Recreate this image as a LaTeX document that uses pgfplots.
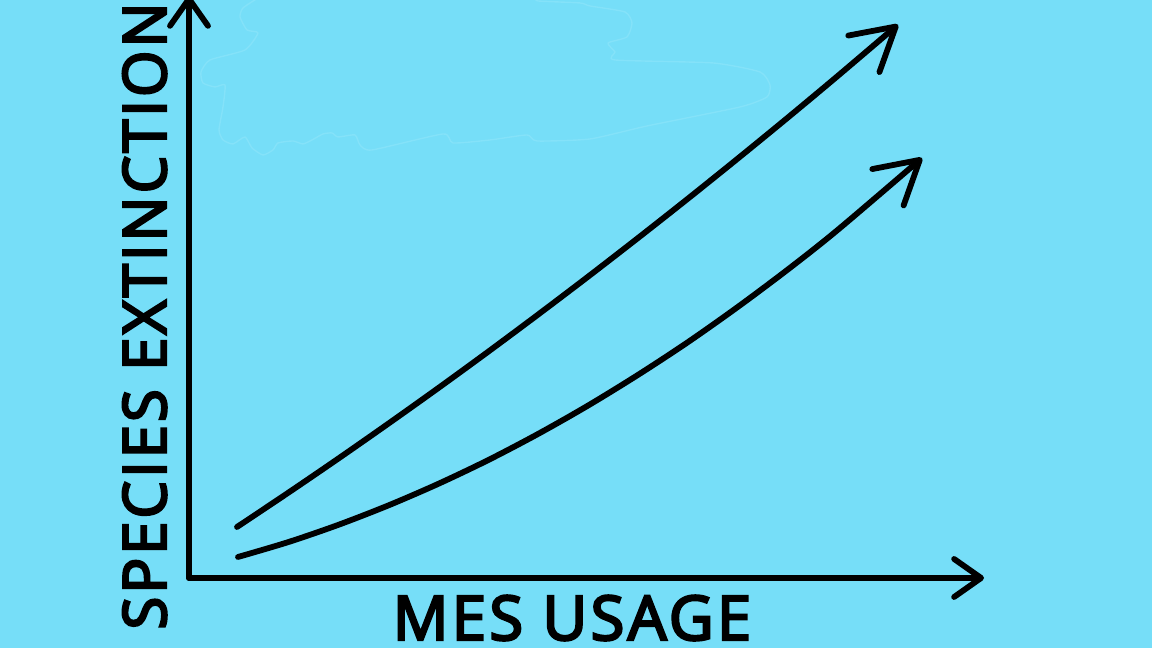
\documentclass[border=0pt]{standalone}
\usepackage{pgfplots}
\pgfplotsset{compat=1.18}
\usepackage{fontspec}
\setmainfont{Open Sans}
\newfontfamily\labx{Open Sans}[FakeBold=4, LetterSpace=5.5]
\newfontfamily\laby{Open Sans}[FakeBold=4, LetterSpace=5]
\usetikzlibrary{arrows.meta}
\definecolor{bg}{RGB}{118,222,248}
\definecolor{cloud}{RGB}{132,226,249}
\begin{document}
\begin{tikzpicture}
\fill[bg] (0,0) rectangle (11.52cm,6.48cm);
\clip (0,0) rectangle (11.52cm,6.48cm);
\begin{axis}[
  at={(0,0)}, anchor=south west,
  scale only axis, width=11.52cm, height=6.48cm,
  xmin=0, xmax=1152, ymin=0, ymax=648,
  hide axis, clip=false,
]
% faint cloud outline
\addplot[cloud, line width=0.4pt, smooth, tension=0.35, line join=round] coordinates {
(258,650)(243,640)(240,631)(247,618)(258,615)(245,598)(210,588)(201,576)(203,565)(215,561)(225,563)(223,541)(219,518)(223,508)(233,504)(245,511)(252,500)(263,493)(273,498)(278,505)(293,507)(303,504)(312,508)(323,514)(332,515)(338,511)(355,513)(360,503)(372,498)(443,514)(453,505)(490,508)(527,513)(537,507)(590,509)(647,522)(740,541)(767,551)(770,563)(760,576)(713,585)(615,588)(615,596)(608,605)(627,611)(632,625)(625,636)(590,642)(580,645)(538,647)(537,650)
};
% axes
\addplot[black, line width=1.65pt, line cap=round, -{Straight Barb[round, length=0.27cm, width=0.38cm]}] coordinates {(189,70)(189,652)};
\addplot[black, line width=1.65pt, line cap=round, -{Straight Barb[round, length=0.27cm, width=0.38cm]}] coordinates {(189,70)(984,70)};
% upper curve
\addplot[black, line width=1.65pt, line cap=round, smooth, tension=0.5, -{Straight Barb[round, length=0.42cm, width=0.48cm]}] coordinates {
(237,121.0)(287,154.4)(337,188.5)(387,223.4)(437,259.0)(487,295.4)(537,332.6)(587,370.5)(637,409.2)(687,448.6)(737,488.8)(787,529.7)(837,571.4)(898,623.3)
};
% lower curve
\addplot[black, line width=1.65pt, line cap=round, smooth, tension=0.5, -{Straight Barb[round, length=0.42cm, width=0.48cm]}] coordinates {
(238,91.0)(288,105.8)(338,123.0)(388,142.4)(438,164.0)(488,187.8)(538,214.0)(588,242.4)(638,273.1)(688,305.9)(738,341.2)(788,378.6)(838,418.3)(922,490.0)
};
\node[anchor=base, inner sep=0pt, font=\fontsize{17.5}{20}\selectfont\labx] at (axis cs:572,8) {MES USAGE};
\node[anchor=base, rotate=90, inner sep=0pt, font=\fontsize{17}{20}\selectfont\laby] at (axis cs:166,332) {SPECIES EXTINCTION};
\end{axis}
\end{tikzpicture}
\end{document}
